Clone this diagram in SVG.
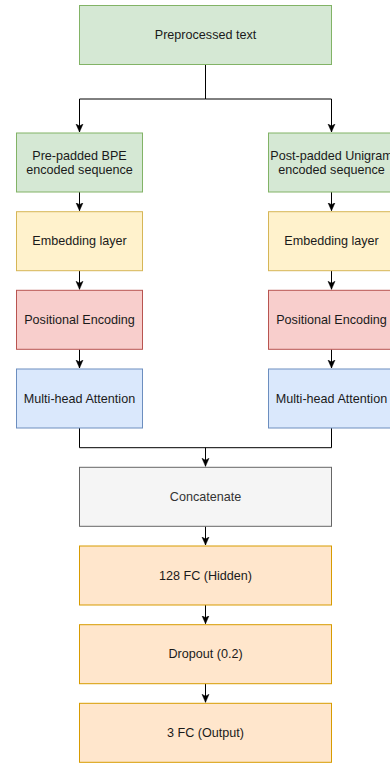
<svg xmlns="http://www.w3.org/2000/svg" width="390" height="763" viewBox="0 0 390 763">
<style>
rect{stroke-width:1}
.g{fill:#d5e8d4;stroke:#82b366}
.y{fill:#fff2cc;stroke:#d6b656}
.r{fill:#f8cecc;stroke:#b85450}
.b{fill:#dae8fc;stroke:#6c8ebf}
.k{fill:#f5f5f5;stroke:#666666}
.o{fill:#ffe6cc;stroke:#d79b00}
text{font-family:"Liberation Sans",Arial,Helvetica,sans-serif;font-size:12.6px;fill:#1a1a1a;text-anchor:middle;dominant-baseline:central}
.gt{fill:#333333}
.c path{fill:none;stroke:#000;stroke-width:1}
</style>
<defs>
<marker id="a" markerUnits="userSpaceOnUse" markerWidth="10" markerHeight="10" viewBox="0 0 10 10" refX="8" refY="5" orient="auto">
<path d="M0,1.5 L8,5 L0,8.5 L2,5 z" fill="#000" stroke="#000" stroke-width="0.5"/>
</marker>
</defs>
<g class="c" id="connectors">
<path d="M205.5,64.5 V99 H79.5 V132" marker-end="url(#a)"/>
<path d="M205.5,99 H331.5 V132" marker-end="url(#a)"/>
<path d="M79.5,192 V210.7" marker-end="url(#a)"/>
<path d="M79.5,270.7 V289.3" marker-end="url(#a)"/>
<path d="M79.5,349.3 V368" marker-end="url(#a)"/>
<path d="M331.5,192 V210.7" marker-end="url(#a)"/>
<path d="M331.5,270.7 V289.3" marker-end="url(#a)"/>
<path d="M331.5,349.3 V368" marker-end="url(#a)"/>
<path d="M79.5,428 V447.7 H331.5 V428"/>
<path d="M205.5,447.7 V466.3" marker-end="url(#a)"/>
<path d="M205.5,526.3 V545" marker-end="url(#a)"/>
<path d="M205.5,605 V623.7" marker-end="url(#a)"/>
<path d="M205.5,683.7 V702.3" marker-end="url(#a)"/>
</g>
<g id="preprocessed"><rect class="g" x="79.5" y="5.5" width="252" height="59"/><text x="205.5" y="35">Preprocessed text</text></g>
<g id="bpe"><rect class="g" x="16.5" y="133" width="126" height="59"/><text x="79.5" y="156">Pre-padded BPE</text><text x="79.5" y="170">encoded sequence</text></g>
<g id="unigram"><rect class="g" x="268.5" y="133" width="126" height="59"/><text x="331.5" y="156">Post-padded Unigram</text><text x="331.5" y="170">encoded sequence</text></g>
<g id="emb1"><rect class="y" x="16.5" y="211.7" width="126" height="59"/><text x="79.5" y="241.2">Embedding layer</text></g>
<g id="emb2"><rect class="y" x="268.5" y="211.7" width="126" height="59"/><text x="331.5" y="241.2">Embedding layer</text></g>
<g id="pos1"><rect class="r" x="16.5" y="290.3" width="126" height="59"/><text x="79.5" y="319.8">Positional Encoding</text></g>
<g id="pos2"><rect class="r" x="268.5" y="290.3" width="126" height="59"/><text x="331.5" y="319.8">Positional Encoding</text></g>
<g id="mha1"><rect class="b" x="16.5" y="369" width="126" height="59"/><text x="79.5" y="398.5">Multi-head Attention</text></g>
<g id="mha2"><rect class="b" x="268.5" y="369" width="126" height="59"/><text x="331.5" y="398.5">Multi-head Attention</text></g>
<g id="concat"><rect class="k" x="79.5" y="467.3" width="252" height="59"/><text class="gt" x="205.5" y="496.8">Concatenate</text></g>
<g id="fc128"><rect class="o" x="79.5" y="546" width="252" height="59"/><text x="205.5" y="575.5">128 FC (Hidden)</text></g>
<g id="dropout"><rect class="o" x="79.5" y="624.7" width="252" height="59"/><text x="205.5" y="654.2">Dropout (0.2)</text></g>
<g id="fc3"><rect class="o" x="79.5" y="703.3" width="252" height="59"/><text x="205.5" y="732.8">3 FC (Output)</text></g>
</svg>
